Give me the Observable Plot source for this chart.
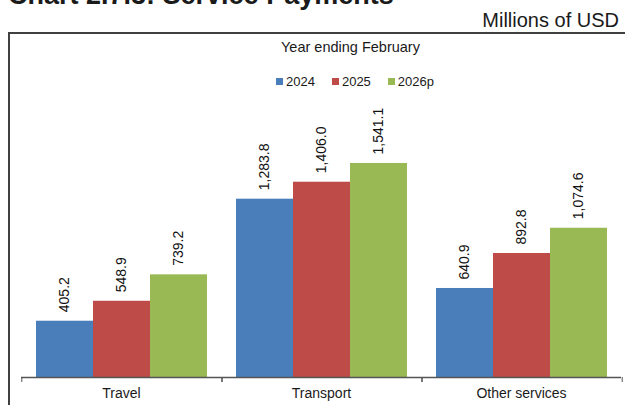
<!DOCTYPE html>
<html>
<head>
<meta charset="utf-8">
<script src="https://cdn.jsdelivr.net/npm/d3@7"></script>
<script src="https://cdn.jsdelivr.net/npm/@observablehq/plot@0.6"></script>
<style>
  body { margin: 0; width: 625px; height: 405px; overflow: hidden; position: relative;
         font-family: "Liberation Sans", Arial, Helvetica, sans-serif; color: #1a1a1a; background: #fff; }
  .title { position: absolute; left: 8px; top: -18px; font-size: 27px; font-weight: bold; line-height: 1; white-space: nowrap; }
  .unit { position: absolute; right: 6px; top: 10px; font-size: 20px; line-height: 1; }
  .box { position: absolute; left: 8px; top: 32px; width: 660px; height: 420px;
         border-left: 2px solid #404040; border-top: 2px solid #404040; }
  .sub { position: absolute; left: 281px; top: 40px; font-size: 14.5px; line-height: 1; }
  .legend { position: absolute; left: 276px; top: 75px; display: flex; align-items: center;
            font-size: 13px; line-height: 13px; }
  .legend .sw { width: 7px; height: 7px; margin-right: 3px; }
  .legend .lab { margin-right: 17px; }
  #chart { position: absolute; left: 0; top: 100px; }
</style>
</head>
<body>
<div class="title">Chart 2.7.3: Service Payments</div>
<div class="unit">Millions of USD</div>
<div class="box"></div>
<div class="sub">Year ending February</div>
<div class="legend"></div>
<div id="chart"></div>
<script>
const categories = ["Travel", "Transport", "Other services"];
const years = ["2024", "2025", "2026p"];
const v2024 = [405.2, 1283.8, 640.9];
const v2025 = [548.9, 1406.0, 892.8];
const v2026p = [739.2, 1541.1, 1074.6];
const colors = ["#4a7ebb", "#be4b48", "#98b954"];

const series = [v2024, v2025, v2026p];
const table = [];
categories.forEach((c, i) => {
  years.forEach((y, j) => table.push({category: c, year: y, value: series[j][i]}));
});

// legend in html
const legend = document.querySelector(".legend");
years.forEach((y, j) => {
  const sw = document.createElement("span");
  sw.className = "sw";
  sw.style.background = colors[j];
  const lab = document.createElement("span");
  lab.className = "lab";
  lab.textContent = y;
  legend.append(sw, lab);
});

const fmt = d3.format(",.1f");
const edge = 43.2; // from first bar centre to facet edge

document.querySelector("#chart").append(
  Plot.plot({
    width: 625,
    height: 305,
    marginLeft: 21,
    marginRight: 4,
    marginTop: 27,
    marginBottom: 28,
    style: {background: "none", fontSize: "14px", fontFamily: "Liberation Sans, Arial, sans-serif", color: "#1a1a1a"},
    facet: {data: table, x: "category"},
    fx: {domain: categories, padding: 0, axis: "bottom", tickSize: 0, tickPadding: 11, label: null},
    x: {domain: years, axis: null, paddingInner: 0, paddingOuter: 0.254},
    y: {domain: [0, 1800], axis: null},
    color: {domain: years, range: colors},
    marks: [
      Plot.barY(table, {x: "year", y: "value", fill: "year"}),
      Plot.text(table, {x: "year", y: "value", text: d => fmt(d.value), rotate: -90,
        textAnchor: "start", dy: -9, fill: "#111", fontSize: 14}),
      Plot.ruleY([0], {stroke: "#555", strokeWidth: 1.3}),
      Plot.ruleX([years[0]], {y1: 0, y2: 0, insetBottom: -5, dx: -edge, stroke: "#555"}),
      Plot.ruleX([years[2]], {y1: 0, y2: 0, insetBottom: -5, dx: edge, stroke: "#555"})
    ]
  })
);
</script>
</body>
</html>
